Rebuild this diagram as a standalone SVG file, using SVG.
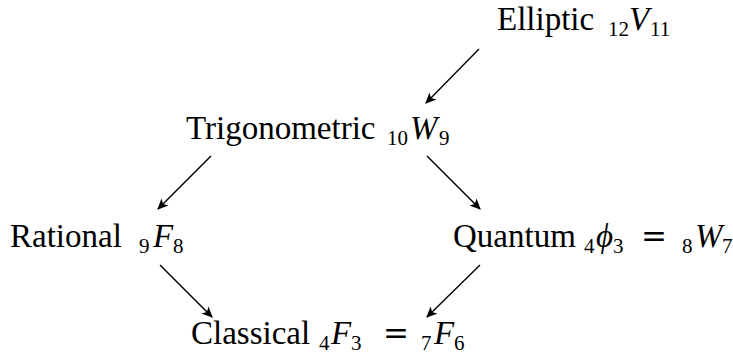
<svg xmlns="http://www.w3.org/2000/svg" width="733" height="355" viewBox="0 0 733 355">
<style>
.t{font-family:"Liberation Serif","DejaVu Serif",serif;font-size:33px;fill:#000}
.s{font-size:21px}
.m{font-style:italic}
.e{font-family:"DejaVu Serif",serif;font-size:31px}
.c{stroke:#000;stroke-width:1.4;fill:none}
</style>
<defs>
<marker id="ah" viewBox="0 0 10 10" refX="9" refY="5" markerWidth="11" markerHeight="11" markerUnits="userSpaceOnUse" orient="auto">
<path d="M0,0.5 L10,5 L0,9.5 L2.5,5 Z" fill="#000"/>
</marker>
</defs>
<g id="connectors">
<line class="c" x1="479" y1="49" x2="426" y2="103" marker-end="url(#ah)"/>
<line class="c" x1="211" y1="156" x2="158" y2="209" marker-end="url(#ah)"/>
<line class="c" x1="427" y1="156" x2="480" y2="209" marker-end="url(#ah)"/>
<line class="c" x1="160" y1="265" x2="212" y2="317" marker-end="url(#ah)"/>
<line class="c" x1="480" y1="265" x2="427" y2="317" marker-end="url(#ah)"/>
</g>
<g id="elliptic"><text class="t" x="497" y="30">Elliptic <tspan class="s" x="608" y="36">12</tspan><tspan class="m" x="629" y="30">V</tspan><tspan class="s" x="650" y="36">11</tspan></text></g>
<g id="trigonometric"><text class="t" x="186" y="139">Trigonometric <tspan class="s" x="387" y="145">10</tspan><tspan class="m" x="410" y="139">W</tspan><tspan class="s" x="439" y="145">9</tspan></text></g>
<g id="rational"><text class="t" x="10" y="247">Rational <tspan class="s" x="139" y="253">9</tspan><tspan class="m" x="153" y="247">F</tspan><tspan class="s" x="173" y="253">8</tspan></text></g>
<g id="quantum"><text class="t" x="453" y="247">Quantum <tspan class="s" x="584" y="253">4</tspan><tspan class="m" x="596" y="247">ϕ</tspan><tspan class="s" x="613" y="253">3</tspan><tspan class="e" x="641" y="247">=</tspan><tspan class="s" x="682" y="253">8</tspan><tspan class="m" x="695" y="247">W</tspan><tspan class="s" x="722" y="253">7</tspan></text></g>
<g id="classical"><text class="t" x="191" y="344">Classical <tspan class="s" x="319" y="350">4</tspan><tspan class="m" x="331" y="344">F</tspan><tspan class="s" x="351" y="350">3</tspan><tspan class="e" x="383" y="344">=</tspan><tspan class="s" x="421" y="350">7</tspan><tspan class="m" x="434" y="344">F</tspan><tspan class="s" x="454" y="350">6</tspan></text></g>
</svg>
